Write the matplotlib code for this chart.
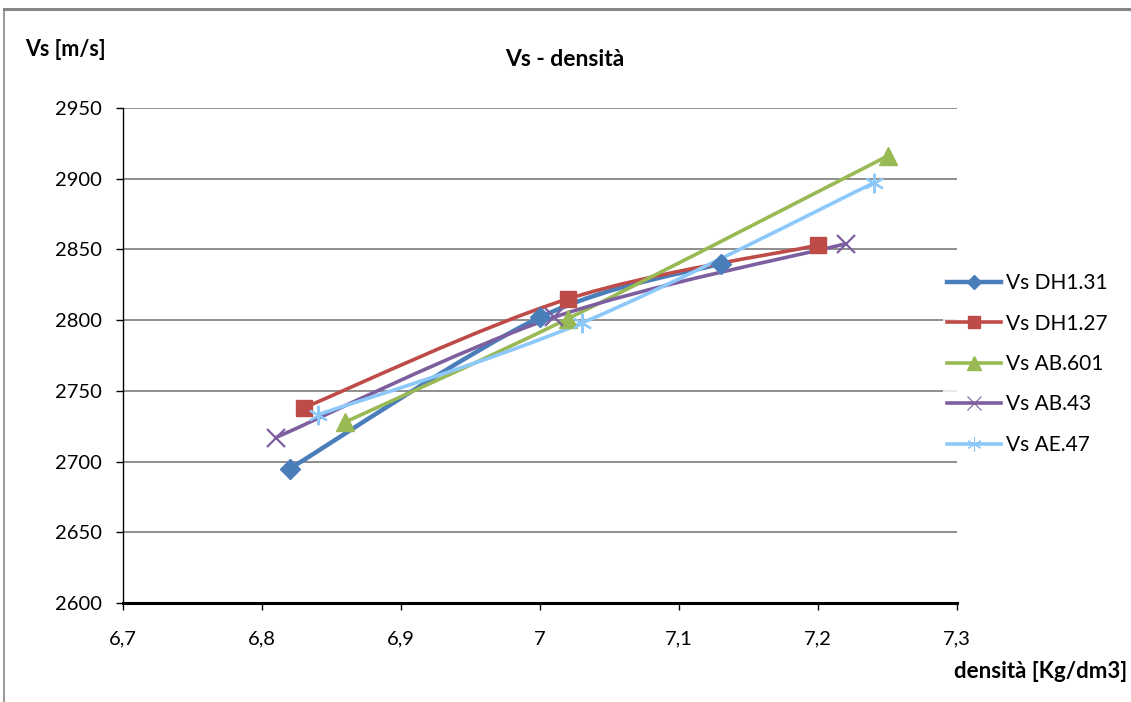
import numpy as np
import matplotlib
matplotlib.use("Agg")
import matplotlib.pyplot as plt
from matplotlib.path import Path
from matplotlib.patches import PathPatch
from matplotlib.lines import Line2D

plt.rcParams['font.family'] = ['Lato', 'DejaVu Sans']

series_names = ["Vs DH1.31", "Vs DH1.27", "Vs AB.601", "Vs AB.43", "Vs AE.47"]
dens_dh131 = [6.82, 7.00, 7.13]
vs_dh131 = [2695, 2802, 2840]
dens_dh127 = [6.83, 7.02, 7.20]
vs_dh127 = [2738, 2815, 2853]
dens_ab601 = [6.86, 7.02, 7.25]
vs_ab601 = [2728, 2801, 2916]
dens_ab43 = [6.81, 7.01, 7.22]
vs_ab43 = [2717, 2802, 2854]
dens_ae47 = [6.84, 7.03, 7.24]
vs_ae47 = [2733, 2798, 2897]

x_ticks = [6.7, 6.8, 6.9, 7.0, 7.1, 7.2, 7.3]
x_tick_labels = ["6,7", "6,8", "6,9", "7", "7,1", "7,2", "7,3"]
y_ticks = [2600, 2650, 2700, 2750, 2800, 2850, 2900, 2950]

colors = ["#4A7EBB", "#BE4B48", "#98B954", "#7D5FA0", "#8CC8FA"]
markers = ["D", "s", "^", "x", (6, 2, 0)]
msizes = [10, 12, 13, 13, 14]
lws = [3.2, 2.6, 2.6, 2.6, 2.6]

data = [(dens_dh131, vs_dh131), (dens_dh127, vs_dh127), (dens_ab601, vs_ab601),
        (dens_ab43, vs_ab43), (dens_ae47, vs_ae47)]

W, H = 1131, 702
fig = plt.figure(figsize=(W / 100, H / 100), dpi=100)
ax = fig.add_axes([123 / W, 1 - 603 / H, (957 - 123) / W, (603 - 108) / H])


def smooth_path(xs, ys, ax):
    # Excel-like smoothed line: cubic Bezier through the points (Catmull-Rom)
    pts = ax.transData.transform(np.column_stack([xs, ys]))
    n = len(pts)
    verts = [pts[0]]
    codes = [Path.MOVETO]
    for i in range(n - 1):
        p0 = pts[i - 1] if i > 0 else pts[i]
        p1 = pts[i]
        p2 = pts[i + 1]
        p3 = pts[i + 2] if i + 2 < n else pts[i + 1]
        c1 = p1 + (p2 - p0) / 6.0
        c2 = p2 - (p3 - p1) / 6.0
        verts += [c1, c2, p2]
        codes += [Path.CURVE4] * 3
    verts = ax.transData.inverted().transform(np.array(verts))
    return Path(verts, codes)


ax.set_xlim(6.7, 7.3)
ax.set_ylim(2600, 2950)

handles = []
for (xs, ys), c, m, ms, lw, name in zip(data, colors, markers, msizes, lws, series_names):
    p = smooth_path(xs, ys, ax)
    ax.add_patch(PathPatch(p, facecolor='none', edgecolor=c, lw=lw, zorder=3, capstyle='round'))
    thin = (m == "x") or isinstance(m, tuple)
    mew = 1.6 if thin else 1
    ax.plot(xs, ys, linestyle='none', marker=m, markersize=ms, color=c,
            markeredgecolor=c, markeredgewidth=mew, zorder=4, clip_on=False)
    handles.append(Line2D([0], [0], color=c, lw=lw, marker=m, markersize=ms * 0.75,
                          markeredgecolor=c, markeredgewidth=0.8 if thin else 1))

ax.set_xticks(x_ticks)
ax.set_xticklabels(x_tick_labels)
ax.set_yticks(y_ticks)
ax.tick_params(axis='both', labelsize=14.5, colors='#000000', length=5, width=1)
ax.tick_params(axis='x', pad=15)
ax.tick_params(axis='y', pad=10)
ax.yaxis.grid(True, color='#868686', lw=1.3)
ax.set_axisbelow(True)
for s in ['top', 'right']:
    ax.spines[s].set_visible(False)
ax.spines['left'].set_linewidth(1)
ax.spines['bottom'].set_linewidth(2.2)
ax.spines['bottom'].set_zorder(5)

fig.text(565 / W, 1 - 60 / H, "Vs - densità", ha='center', va='center', fontsize=16.5, fontweight='bold')
fig.text(25 / W, 1 - 50 / H, "Vs [m/s]", ha='left', va='center', fontsize=15.5, fontweight='bold')
fig.text(1127 / W, 1 - 672 / H, "densità [Kg/dm3]", ha='right', va='center', fontsize=16, fontweight='bold')

leg = fig.legend(handles, series_names, loc='upper left', bbox_to_anchor=(943 / W, 1 - 269 / H),
                 frameon=True, fontsize=15, handlelength=2.6, handletextpad=0.2,
                 labelspacing=0.98, borderpad=0.2, borderaxespad=0)
leg.get_frame().set_edgecolor('none')
leg.get_frame().set_facecolor('white')
leg.set_zorder(10)

# outer chart frame
fig.add_artist(Line2D([4 / W, 1.0], [1 - 9 / H, 1 - 9 / H], color='#868686', lw=2.2))
fig.add_artist(Line2D([4 / W, 4 / W], [0, 1 - 9 / H], color='#868686', lw=1.2))

fig.savefig("out.png", dpi=100)
